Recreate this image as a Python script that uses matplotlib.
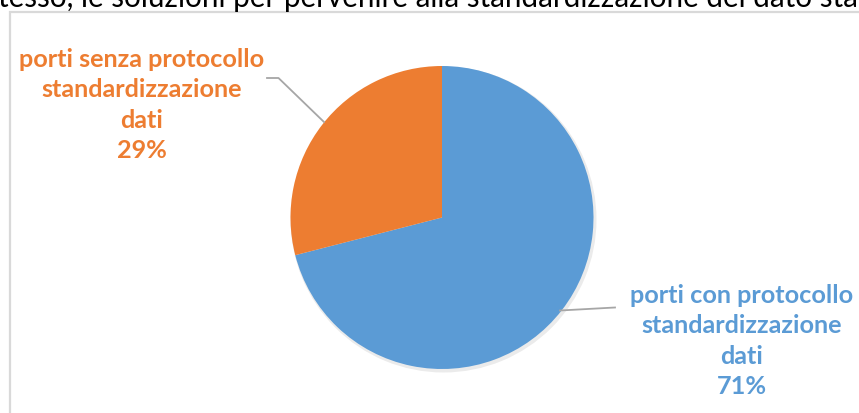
import matplotlib
matplotlib.use("Agg")
import matplotlib.pyplot as plt
from matplotlib.patches import Rectangle

categories = ["porti con protocollo\nstandardizzazione\ndati", "porti senza protocollo\nstandardizzazione\ndati"]
values = [71, 29]
colors = ["#5B9BD5", "#ED7D31"]
header_text = "tesso, le soluzioni per pervenire alla standardizzazione del dato sta"

W, H = 859, 414
fig = plt.figure(figsize=(W / 100, H / 100), dpi=100)
ax = fig.add_axes([0, 0, 1, 1])

cx, cy, r = 442, H - 218.5, 151.5
# subtle shadow
ax.pie([1], colors=["#000000"], center=(cx + 1.5, cy - 2), radius=r + 1.5,
       wedgeprops=dict(alpha=0.08, linewidth=0), frame=True)
wedges, _ = ax.pie(values, colors=colors, startangle=90, counterclock=False,
                   center=(cx, cy), radius=r, frame=True,
                   wedgeprops=dict(linewidth=0))
ax.set_xlim(0, W)
ax.set_ylim(0, H)
ax.set_aspect("equal")
ax.axis("off")

# chart frame
ax.add_patch(Rectangle((9.5, -20), W + 40, (H - 12.5) + 20, fill=False,
                       edgecolor="#D9D9D9", linewidth=1.6, zorder=1))

font = ["Lato", "DejaVu Sans"]
labs = [f"{c}\n{v}%" for c, v in zip(categories, values)]
ax.text(742, H - 341, labs[0], color=colors[0], ha="center", va="center",
        fontsize=18.2, fontweight="bold", family=font, linespacing=1.38)
ax.text(142, H - 105, labs[1], color=colors[1], ha="center", va="center",
        fontsize=18.2, fontweight="bold", family=font, linespacing=1.38)

# leader lines
ax.plot([560, 615], [H - 311.5, H - 308.5], color="#A6A6A6", lw=1.3)
ax.plot([267, 278.5, 324], [H - 79, H - 79, H - 123], color="#A6A6A6", lw=1.3)

ax.text(-2, H - 7, header_text, color="#000000", ha="left", va="baseline",
        fontsize=21.3, family=["Lato", "DejaVu Sans"])

fig.savefig("out.png", dpi=100)
